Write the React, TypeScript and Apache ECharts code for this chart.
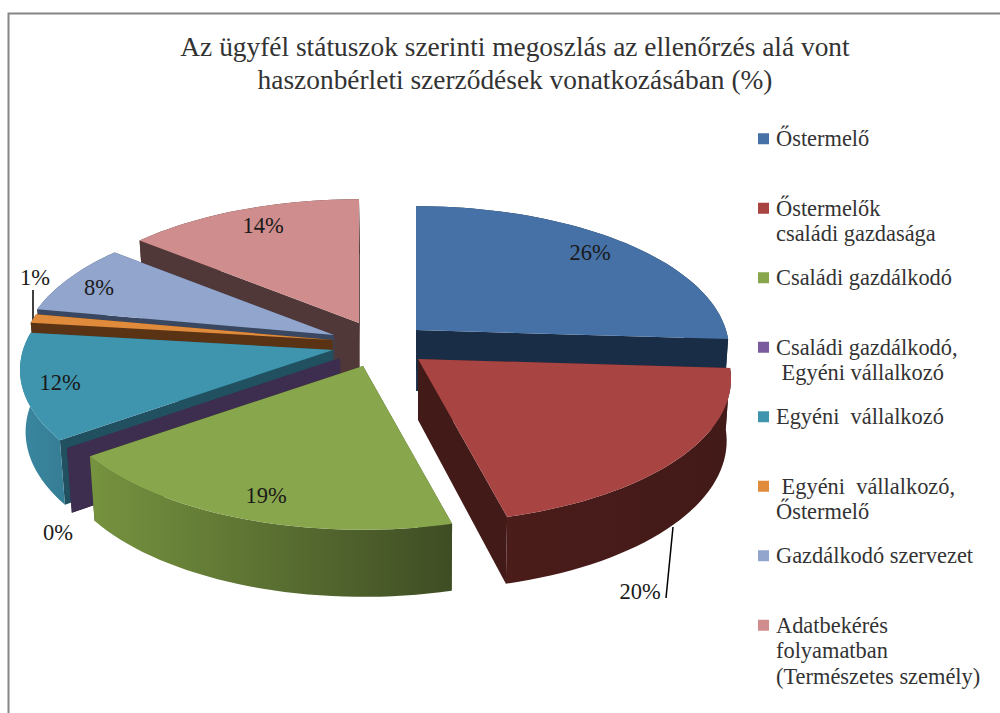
import React, { useEffect, useRef } from "react";
import * as echarts from "echarts";

const titleLines = [
  "Az ügyfél státuszok szerinti megoszlás az ellenőrzés alá vont",
  "haszonbérleti szerződések vonatkozásában (%)",
];
const categories = [
  "Őstermelő",
  "Őstermelők\ncsaládi gazdasága",
  "Családi gazdálkodó",
  "Családi gazdálkodó,\n Egyéni vállalkozó",
  "Egyéni  vállalkozó",
  " Egyéni  vállalkozó,\nŐstermelő",
  "Gazdálkodó szervezet",
  "Adatbekérés\nfolyamatban\n(Természetes személy)",
];
const values = [26, 20, 19, 0, 12, 1, 8, 14];

// Styling and layout only
const FONT = "'Liberation Serif', serif";
const topColors = ["#4571a6", "#a84543", "#88a64c", "#7a5c9e", "#3f95ae", "#e08a3c", "#91a5cd", "#cf8e8d"];
const wallColors = ["#1a2d47", "#421a18", "#3f4d24", "#3d2d4e", "#215160", "#5a3314", "#394760", "#513838"];
const rimColors: [string, string][] = [
  ["#1a2d47", "#1a2d47"],
  ["#4a1c1a", "#421a18"],
  ["#76933f", "#3f4d24"],
  ["#3d2d4e", "#3d2d4e"],
  ["#3a87a0", "#357d94"],
  ["#5a3314", "#5a3314"],
  ["#394760", "#394760"],
  ["#513838", "#513838"],
];
const apexes = [[416, 330], [418, 359], [363, 366], [340, 358], [333, 350], [333, 340], [334, 335], [359, 323]];
const labelPos = [[590, 252], [640, 591], [266, 495], [58, 532], [60, 382], [35, 277], [99, 287], [263, 225]];
const leaders: Record<number, number[][]> = { 1: [[673, 527], [666, 598]], 5: [[33, 290], [33, 320]] };
const paintOrder = [7, 6, 5, 4, 3, 2, 0, 1];
const RX = 310, RY = 141, PERSP = 0.139, DEPTH = 61;

const starts: number[] = [];
values.reduce((acc, v, i) => { starts[i] = acc; return acc + v; }, 0);
const total = values.reduce((a, b) => a + b, 0);

function project(apex: number[], deg: number) {
  const a = (deg * Math.PI) / 180;
  const u = Math.sin(a), v = -Math.cos(a);
  const s = 1 / (1 - PERSP * v);
  return { x: apex[0] + RX * u * s, y: apex[1] + RY * v * s, v };
}
const lower = (p: { x: number; y: number; v: number }) => [420 + (p.x - 420) * 0.986, p.y + DEPTH * (1 + 0.1 * p.v)];

function sliceRenderer(index: number) {
  return (_params: any, api: any) => {
    const value = api.value(0);
    const a0 = (api.value(1) / total) * 360;
    const a1 = a0 + (value / total) * 360;
    const apex = apexes[index];
    const arc: any[] = [];
    const n = Math.max(1, Math.ceil((a1 - a0) / 2));
    for (let i = 0; i <= n; i++) arc.push(project(apex, a0 + ((a1 - a0) * i) / n));
    const c = { x: apex[0], y: apex[1], v: 0 };
    const wall = (p: any) => ({
      type: "polygon",
      shape: { points: [[c.x, c.y], [p.x, p.y], lower(p), lower(c)] },
      style: { fill: wallColors[index] },
    });
    const rim = {
      type: "polygon",
      shape: { points: [...arc.map((p) => [p.x, p.y]), ...arc.slice().reverse().map(lower)] },
      style: {
        fill: new echarts.graphic.LinearGradient(0, 0, 1, 0, [
          { offset: 0, color: rimColors[index][0] },
          { offset: 1, color: rimColors[index][1] },
        ]),
      },
    };
    const top = {
      type: "polygon",
      shape: { points: [[c.x, c.y], ...arc.map((p) => [p.x, p.y])] },
      style: { fill: topColors[index] },
    };
    const children: any[] = [];
    if (leaders[index]) {
      const [p, q] = leaders[index];
      children.push({
        type: "line",
        shape: { x1: p[0], y1: p[1], x2: q[0], y2: q[1] },
        style: { stroke: "#000", lineWidth: 1.5 },
      });
    }
    children.push(wall(arc[0]), wall(arc[arc.length - 1]), rim);
    if (value > 0) children.push(top);
    children.push({
      type: "text",
      style: {
        text: `${value}%`,
        x: labelPos[index][0],
        y: labelPos[index][1],
        fill: "#1a1a1a",
        fontFamily: FONT,
        fontSize: 22.5,
        align: "center",
        verticalAlign: "middle",
      },
    });
    return { type: "group", children };
  };
}

function legendText(name: string) {
  const lines = name.split("\n");
  const pad = new Array(5 - 2 - lines.length + 0).fill("");
  return ["", "", ...lines, ...pad].slice(0, 5).join("\n");
}

export default function App() {
  const ref = useRef<HTMLDivElement>(null);
  useEffect(() => {
    const chart = echarts.init(ref.current!, undefined, { renderer: "svg" });
    chart.setOption({
      animation: false,
      backgroundColor: "#fff",
      graphic: [
        {
          type: "rect",
          silent: true,
          z: -1,
          shape: { x: 8.5, y: 13.5, width: 1100, height: 800 },
          style: { fill: "#fff", stroke: "#868686", lineWidth: 2 },
        },
      ],
      title: {
        text: titleLines.join("\n"),
        left: 510,
        top: 25,
        textAlign: "center",
        textStyle: { fontFamily: FONT, fontSize: 27.4, fontWeight: "normal", color: "#333", lineHeight: 33 },
      },
      legend: {
        orient: "vertical",
        left: 758,
        top: 75,
        padding: 0,
        itemWidth: 11,
        itemHeight: 11,
        itemGap: -58,
        icon: "rect",
        selectedMode: false,
        data: categories,
        formatter: legendText,
        textStyle: { fontFamily: FONT, fontSize: 22.4, lineHeight: 25.5, color: "#333", padding: [0, 0, 0, 2] },
      },
      series: paintOrder.map((i) => ({
        type: "custom",
        name: categories[i],
        coordinateSystem: "none",
        silent: true,
        itemStyle: { color: topColors[i] },
        renderItem: sliceRenderer(i),
        data: [[values[i], starts[i]]],
      })),
    });
    return () => chart.dispose();
  }, []);
  return <div ref={ref} style={{ position: "absolute", left: 0, top: 0, width: 1000, height: 713 }} />;
}
